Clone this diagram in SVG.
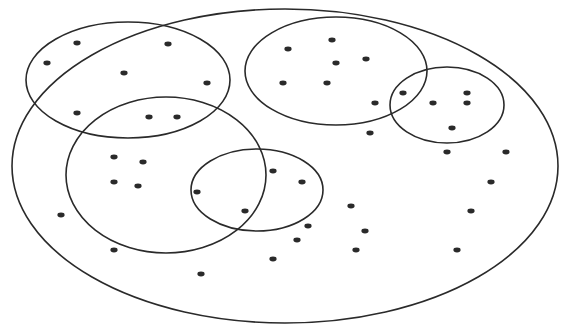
<svg xmlns="http://www.w3.org/2000/svg" width="571" height="327" viewBox="0 0 571 327">
<style>
.e{fill:none;stroke:#2a2a2a;stroke-width:1.6}
.d{fill:#2a2a2a}
</style>
<defs><ellipse id="p" rx="3.6" ry="2.4" class="d"/></defs>
<rect width="571" height="327" fill="#fff"/>
<g id="sets">
<ellipse id="universe" class="e" cx="285" cy="166" rx="273" ry="157"/>
<ellipse id="setA" class="e" cx="128" cy="80" rx="102" ry="58"/>
<ellipse id="setB" class="e" cx="166" cy="175" rx="100" ry="78"/>
<ellipse id="setC" class="e" cx="257" cy="190" rx="66" ry="41"/>
<ellipse id="setD" class="e" cx="336" cy="71" rx="91" ry="54"/>
<ellipse id="setE" class="e" cx="447" cy="105" rx="57" ry="38"/>
</g>
<g id="points">
<use href="#p" x="77" y="43"/><use href="#p" x="168" y="44"/><use href="#p" x="47" y="63"/>
<use href="#p" x="124" y="73"/><use href="#p" x="207" y="83"/><use href="#p" x="77" y="113"/>
<use href="#p" x="149" y="117"/><use href="#p" x="177" y="117"/><use href="#p" x="114" y="157"/>
<use href="#p" x="143" y="162"/>
<use href="#p" x="332" y="40"/><use href="#p" x="288" y="49"/><use href="#p" x="336" y="63"/>
<use href="#p" x="366" y="59"/><use href="#p" x="283" y="83"/><use href="#p" x="327" y="83"/>
<use href="#p" x="375" y="103"/><use href="#p" x="403" y="93"/><use href="#p" x="433" y="103"/>
<use href="#p" x="467" y="93"/><use href="#p" x="467" y="103"/><use href="#p" x="452" y="128"/>
<use href="#p" x="370" y="133"/><use href="#p" x="447" y="152"/><use href="#p" x="506" y="152"/>
<use href="#p" x="114" y="182"/><use href="#p" x="138" y="186"/><use href="#p" x="197" y="192"/>
<use href="#p" x="273" y="171"/><use href="#p" x="61" y="215"/><use href="#p" x="245" y="211"/>
<use href="#p" x="114" y="250"/><use href="#p" x="201" y="274"/><use href="#p" x="273" y="259"/>
<use href="#p" x="302" y="182"/><use href="#p" x="351" y="206"/><use href="#p" x="308" y="226"/>
<use href="#p" x="297" y="240"/><use href="#p" x="365" y="231"/><use href="#p" x="356" y="250"/>
<use href="#p" x="491" y="182"/><use href="#p" x="471" y="211"/><use href="#p" x="457" y="250"/>
</g>
</svg>
